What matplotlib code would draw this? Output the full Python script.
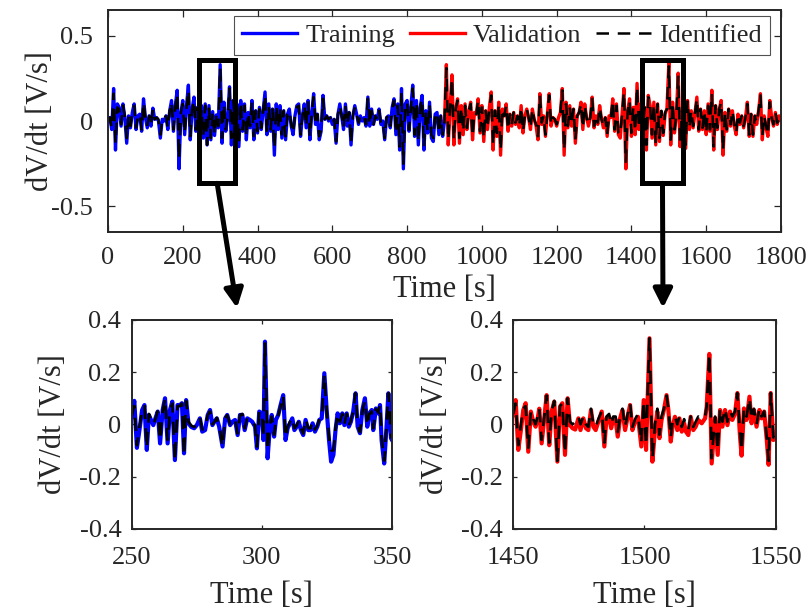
import numpy as np
import matplotlib
matplotlib.use("Agg")
import matplotlib.pyplot as plt
from matplotlib.patches import Rectangle

plt.rcParams['font.family'] = ['Liberation Serif', 'DejaVu Serif']

# ---- top panel data, read every 5 s ----
t_train = np.arange(0, 901, 5)
t_valid = np.arange(900, 1801, 5)

dv_train = [
    0.0, 0.02, -0.05, 0.19, -0.17, 0.10, 0.08, -0.03, 0.10, 0.02,
    -0.13, 0.03, -0.04, 0.05, 0.10, -0.05, 0.03, 0.04, -0.06, 0.13,
    0.02, -0.04, 0.03, -0.03, 0.075, 0.01, 0.02, 0.0, -0.10, 0.01,
    0.0, 0.03, -0.05, 0.06, 0.12, -0.06, 0.09, 0.18, -0.28, 0.05,
    0.12, -0.08, 0.09, 0.21, -0.11, 0.07, 0.14, -0.06, 0.08, -0.17,
    0.09, -0.10, 0.10, -0.14, 0.09, -0.11, 0.055, -0.085, 0.036, -0.04,
    0.33, -0.13, 0.11, -0.06, 0.02, 0.20, -0.14, 0.12, -0.03, 0.10,
    -0.15, 0.12, -0.06, 0.10, -0.11, 0.05, -0.04, 0.12, -0.11, 0.06,
    -0.07, 0.08, -0.05, 0.06, 0.17, -0.08, 0.10, -0.06, 0.07, -0.20,
    0.10, -0.05, 0.09, -0.10, 0.06, -0.11, 0.04, 0.07, -0.03, -0.08,
    0.03, 0.09, 0.10, -0.09, 0.03, 0.10, -0.04, 0.12, -0.11, 0.05,
    0.16, -0.02, 0.04, -0.11, -0.06, 0.15, 0.01, 0.03, 0.0, 0.02,
    -0.02, 0.01, -0.13, 0.04, 0.10, 0.03, -0.05, 0.10, -0.03, 0.05,
    -0.14, 0.03, 0.09, 0.04, -0.02, 0.03, 0.0, 0.02, -0.03, 0.14,
    -0.03, 0.07, -0.02, 0.03, 0.01, 0.07, -0.02, 0.0, -0.11, 0.02,
    0.03, -0.04, 0.08, 0.13, -0.08, 0.10, -0.17, 0.19, -0.28, 0.10,
    0.12, -0.06, 0.08, 0.21, -0.09, 0.12, -0.14, 0.08, 0.15, -0.17,
    0.06, -0.07, 0.11, -0.10, -0.12, 0.04, 0.05, -0.08, 0.03, -0.09,
    0.0]

id_train = [
    0.0, 0.02, -0.04, 0.16, -0.13, 0.08, 0.07, -0.02, 0.09, 0.03,
    -0.10, 0.03, -0.03, 0.05, 0.09, -0.04, 0.03, 0.04, -0.05, 0.11,
    0.02, -0.03, 0.03, -0.02, 0.07, 0.01, 0.02, 0.01, -0.08, 0.01,
    0.01, 0.03, -0.04, 0.06, 0.11, -0.05, 0.08, 0.16, -0.22, 0.05,
    0.10, -0.07, 0.08, 0.18, -0.09, 0.07, 0.12, -0.05, 0.08, -0.14,
    0.07, -0.09, 0.09, -0.14, 0.08, -0.10, 0.05, -0.08, 0.04, -0.03,
    0.31, -0.10, 0.10, -0.05, 0.03, 0.19, -0.10, 0.12, -0.02, 0.09,
    -0.13, 0.11, -0.05, 0.09, -0.09, 0.05, -0.03, 0.11, -0.09, 0.06,
    -0.06, 0.07, -0.04, 0.06, 0.15, -0.07, 0.09, -0.05, 0.07, -0.16,
    0.09, -0.04, 0.08, -0.08, 0.06, -0.09, 0.04, 0.06, -0.02, -0.07,
    0.03, 0.08, 0.09, -0.08, 0.03, 0.09, -0.03, 0.11, -0.09, 0.05,
    0.14, -0.02, 0.04, -0.09, -0.05, 0.13, 0.01, 0.03, 0.01, 0.02,
    -0.02, 0.01, -0.12, 0.04, 0.09, 0.03, -0.04, 0.09, -0.02, 0.05,
    -0.13, 0.03, 0.08, 0.04, -0.01, 0.03, 0.01, 0.02, -0.02, 0.13,
    -0.02, 0.06, -0.02, 0.03, 0.01, 0.06, -0.01, 0.0, -0.10, 0.02,
    0.03, -0.03, 0.07, 0.12, -0.07, 0.09, -0.15, 0.17, -0.25, 0.09,
    0.11, -0.05, 0.07, 0.19, -0.08, 0.11, -0.12, 0.08, 0.13, -0.15,
    0.06, -0.06, 0.10, -0.08, -0.10, 0.04, 0.05, -0.07, 0.03, -0.08,
    0.0]

dv_valid = [
    0.0, 0.33, -0.14, 0.08, 0.27, -0.14, 0.07, 0.13, -0.13, 0.09,
    -0.08, 0.10, -0.05, 0.06, 0.11, -0.11, 0.05, 0.04, 0.13, -0.07,
    0.09, -0.12, 0.06, -0.05, 0.08, 0.17, -0.17, 0.06, -0.09, 0.11,
    -0.20, 0.07, 0.03, 0.10, -0.06, 0.04, -0.03, 0.05, -0.02, 0.03,
    -0.04, 0.09, -0.07, 0.03, 0.07, 0.02, -0.05, 0.07, 0.01, -0.03,
    -0.11, 0.16, -0.02, 0.03, -0.09, 0.04, 0.16, -0.03, 0.02, 0.01,
    -0.03, 0.02, 0.05, 0.19, -0.20, 0.11, -0.04, 0.09, -0.03, 0.07,
    -0.13, 0.03, 0.05, 0.11, -0.05, 0.10, 0.02, -0.03, 0.02, 0.14,
    -0.04, 0.03, -0.02, 0.09, 0.01, -0.04, 0.02, -0.09, 0.03, 0.02,
    0.13, -0.06, 0.10, -0.08, -0.10, 0.04, 0.19, -0.28, 0.06, 0.13,
    -0.09, 0.08, -0.08, 0.22, -0.05, 0.10, -0.10, 0.08, -0.17, 0.15,
    0.09, -0.10, 0.11, -0.14, 0.10, -0.12, 0.055, -0.085, 0.04, 0.074,
    0.34, -0.14, 0.11, -0.07, 0.02, 0.28, -0.15, 0.05, 0.12, -0.16,
    0.12, -0.05, 0.06, -0.04, 0.05, 0.14, -0.06, 0.07, -0.05, 0.06,
    -0.08, 0.10, -0.06, 0.18, -0.17, 0.09, -0.05, 0.07, 0.12, -0.20,
    0.05, -0.06, 0.07, -0.03, 0.06, -0.03, -0.08, 0.04, -0.02, 0.03,
    -0.04, 0.02, 0.11, -0.09, 0.04, -0.09, 0.03, -0.02, 0.06, 0.16,
    -0.11, 0.03, -0.04, -0.09, 0.12, 0.02, -0.03, 0.05, -0.02, 0.03,
    0.01]

id_valid = [
    0.0, 0.31, -0.11, 0.07, 0.25, -0.11, 0.07, 0.12, -0.10, 0.08,
    -0.06, 0.09, -0.04, 0.06, 0.10, -0.09, 0.05, 0.04, 0.12, -0.06,
    0.08, -0.10, 0.06, -0.04, 0.08, 0.15, -0.14, 0.06, -0.07, 0.10,
    -0.17, 0.07, 0.03, 0.09, -0.05, 0.04, -0.02, 0.05, -0.01, 0.03,
    -0.03, 0.08, -0.06, 0.03, 0.07, 0.02, -0.04, 0.07, 0.01, -0.02,
    -0.09, 0.15, -0.01, 0.03, -0.08, 0.04, 0.15, -0.02, 0.02, 0.01,
    -0.02, 0.02, 0.05, 0.18, -0.17, 0.10, -0.03, 0.08, -0.02, 0.07,
    -0.11, 0.03, 0.05, 0.10, -0.04, 0.09, 0.02, -0.02, 0.02, 0.13,
    -0.03, 0.03, -0.01, 0.08, 0.01, -0.03, 0.02, -0.08, 0.03, 0.02,
    0.12, -0.05, 0.09, -0.07, -0.08, 0.04, 0.17, -0.24, 0.06, 0.12,
    -0.07, 0.08, -0.06, 0.20, -0.04, 0.09, -0.08, 0.08, -0.14, 0.14,
    0.08, -0.08, 0.10, -0.13, 0.10, -0.10, 0.06, -0.07, 0.05, 0.07,
    0.32, -0.11, 0.11, -0.05, 0.03, 0.26, -0.12, 0.05, 0.11, -0.14,
    0.12, -0.04, 0.06, -0.03, 0.05, 0.13, -0.05, 0.07, -0.04, 0.06,
    -0.07, 0.09, -0.05, 0.16, -0.15, 0.09, -0.04, 0.07, 0.11, -0.17,
    0.05, -0.05, 0.07, -0.02, 0.06, -0.02, -0.07, 0.04, -0.01, 0.03,
    -0.03, 0.02, 0.10, -0.08, 0.04, -0.08, 0.03, -0.01, 0.06, 0.15,
    -0.09, 0.03, -0.03, -0.08, 0.11, 0.02, -0.02, 0.05, -0.01, 0.03,
    0.01]

# ---- zoomed window 250-350 s (training) ----
tz_train = [
    250, 251, 252, 253, 254, 254.9, 255.8, 256.6, 257.4, 258.3,
    259.1, 260, 260.9, 261.9, 262.8, 263.8, 264.7, 265.6, 266.6, 267.6,
    268.5, 269.3, 270.1, 270.9, 271.8, 272.9, 274, 275, 276.2, 277.1,
    278.2, 279.2, 280.1, 281, 281.8, 282.7, 283.6, 284.9, 285.9, 286.7,
    287.8, 288.7, 289.7, 290.7, 291.6, 292.5, 293.4, 294.4, 295.4, 296.3,
    297.4, 298.1, 299, 300, 300.6, 301.2, 302.2, 303.1, 303.8, 304.7,
    305.4, 306.3, 307.2, 308.2, 309.1, 309.9, 310.8, 311.7, 312.5, 313.4,
    314.2, 315, 315.9, 316.8, 317.8, 318.7, 319.5, 320.4, 321.3, 322.1,
    323, 324, 324.9, 325.8, 326.6, 327.5, 328.3, 329.1, 330, 330.9,
    331.7, 332.6, 333.4, 334.2, 335.1, 336, 336.8, 337.7, 338.6, 339.6,
    340.5, 341.3, 342.2, 342.8, 343.8, 344.7, 345.4, 346, 347, 347.9,
    348.6, 349.6, 350]
dz_train = [
    0.03, 0.09, -0.09, -0.02, 0.055, 0.074, -0.098, 0.036, 0.017, -0.003,
    0.023, 0.049, -0.073, 0.055, 0.10, -0.073, 0.055, 0.087, -0.137, 0.074,
    0.074, 0.081, -0.111, 0.093, 0.004, -0.01, -0.015, -0.003, 0.023, -0.028,
    -0.022, 0.036, 0.055, -0.003, 0.01, 0.023, -0.009, -0.085, 0.023, 0.036,
    -0.003, 0.01, 0.017, -0.041, 0.036, 0.036, -0.022, 0.023, 0.017, 0.01,
    -0.009, -0.092, 0.049, 0.042, -0.06, 0.317, -0.13, -0.009, 0.036, -0.047,
    0.017, 0.036, 0.074, 0.112, -0.06, -0.015, 0.004, 0.023, -0.022, -0.009,
    0.01, -0.022, -0.041, 0.017, -0.022, -0.022, 0.004, -0.028, -0.009, 0.017,
    0.023, 0.196, 0.055, -0.06, -0.143, -0.117, -0.022, 0.042, 0.004, 0.042,
    -0.003, 0.042, -0.009, 0.01, 0.049, 0.119, -0.009, -0.034, 0.055, 0.1,
    -0.009, 0.042, 0.055, -0.022, 0.061, 0.042, 0.074, -0.06, -0.15, -0.009,
    0.119, -0.053, -0.06]
iz_train = [
    0.03, 0.07, -0.08, -0.01, 0.05, 0.07, -0.09, 0.04, 0.02, 0.0,
    0.02, 0.05, -0.06, 0.05, 0.10, -0.06, 0.05, 0.08, -0.14, 0.07,
    0.07, 0.08, -0.12, 0.09, 0.01, -0.005, -0.01, 0.0, 0.025, -0.02,
    -0.015, 0.035, 0.05, 0.0, 0.01, 0.025, -0.005, -0.085, 0.025, 0.035,
    0.0, 0.01, 0.02, -0.035, 0.035, 0.04, -0.015, 0.025, 0.02, 0.01,
    -0.005, -0.085, 0.05, 0.04, -0.05, 0.31, -0.10, 0.0, 0.03, -0.04,
    0.02, 0.035, 0.07, 0.11, -0.05, -0.01, 0.01, 0.025, -0.015, -0.005,
    0.015, -0.015, -0.035, 0.02, -0.015, -0.015, 0.01, -0.02, -0.005, 0.02,
    0.025, 0.19, 0.05, -0.05, -0.10, -0.10, -0.015, 0.04, 0.01, 0.04,
    0.0, 0.04, -0.005, 0.015, 0.05, 0.12, -0.005, -0.03, 0.05, 0.09,
    -0.005, 0.04, 0.05, -0.015, 0.06, 0.045, 0.075, -0.05, -0.14, -0.005,
    0.12, -0.045, -0.055]

# ---- zoomed window 1450-1550 s (validation) ----
tz_valid = [
    1450, 1450.9, 1451.9, 1452.9, 1453.8, 1454.7, 1455.7, 1456.7, 1457.6, 1458.5,
    1459.2, 1459.9, 1460.8, 1461.8, 1462.7, 1463.7, 1464.6, 1465.6, 1466.8, 1467.8,
    1468.7, 1469.7, 1470.7, 1471.6, 1472.6, 1473.6, 1474.8, 1475.6, 1476.7, 1477.7,
    1478.6, 1479.6, 1480.5, 1481.4, 1482.4, 1483.7, 1484.7, 1485.5, 1486.5, 1487.3,
    1488.1, 1489, 1489.8, 1490.7, 1491.6, 1492.6, 1493.6, 1494.5, 1495.4, 1496.4,
    1497.5, 1498.8, 1499.7, 1500.6, 1501.9, 1503.0, 1504, 1504.9, 1505.7, 1506.5,
    1507.4, 1508.4, 1509.1, 1510, 1510.7, 1511.6, 1512.5, 1513.3, 1514.2, 1515.1,
    1515.8, 1516.7, 1517.6, 1518.6, 1519.5, 1520.5, 1521.8, 1523.1, 1523.7, 1524.7,
    1525.6, 1526.9, 1527.9, 1528.8, 1529.7, 1530.7, 1531.6, 1532.6, 1533.5, 1534.5,
    1535.4, 1536.4, 1537, 1537.9, 1538.9, 1540, 1540.8, 1541.7, 1542.7, 1543.8,
    1544.6, 1545.6, 1546.6, 1547.3, 1548.1, 1549.1, 1550]
dz_valid = [
    0.036, 0.093, -0.098, -0.022, 0.055, 0.081, -0.105, 0.049, 0.01, -0.009,
    0.017, 0.06, -0.073, 0.023, 0.112, -0.08, 0.049, 0.087, -0.143, 0.068,
    0.081, -0.117, 0.1, -0.003, -0.015, -0.02, 0.023, -0.022, 0.023, -0.015,
    -0.022, 0.055, -0.009, -0.022, 0.01, 0.049, -0.085, 0.023, 0.029, -0.015,
    0.023, 0.017, -0.047, 0.023, 0.055, -0.022, 0.029, 0.074, -0.022, 0.01,
    0.029, -0.085, 0.093, -0.098, 0.33, -0.143, -0.022, 0.049, -0.053, 0.017,
    0.055, 0.112, 0.055, -0.066, -0.009, 0.029, -0.022, 0.023, -0.028, 0.004,
    -0.028, -0.041, 0.029, -0.022, -0.009, 0.017, 0.004, 0.023, 0.068, 0.27,
    -0.15, 0.023, -0.117, 0.055, -0.009, 0.055, -0.003, 0.049, 0.017, 0.042,
    0.12, -0.047, -0.12, 0.061, 0.017, 0.106, 0.004, 0.055, -0.009, 0.055,
    0.023, 0.049, -0.06, -0.155, 0.12, -0.06, -0.053]
iz_valid = [
    0.04, 0.08, -0.08, 0.0, 0.06, 0.07, -0.09, 0.05, 0.02, 0.0,
    0.03, 0.06, -0.06, 0.03, 0.11, -0.07, 0.05, 0.09, -0.14, 0.07,
    0.08, -0.11, 0.10, 0.01, 0.0, 0.01, 0.03, 0.0, 0.03, 0.0,
    -0.01, 0.06, 0.0, -0.01, 0.02, 0.05, -0.07, 0.03, 0.04, 0.0,
    0.03, 0.03, -0.03, 0.03, 0.06, -0.01, 0.04, 0.08, -0.01, 0.02,
    0.04, -0.07, 0.09, -0.08, 0.33, -0.13, 0.0, 0.06, -0.04, 0.03,
    0.06, 0.11, 0.06, -0.05, 0.01, 0.03, 0.0, 0.03, -0.01, 0.02,
    -0.01, -0.02, 0.03, -0.01, 0.01, 0.03, 0.02, 0.03, 0.07, 0.27,
    -0.13, 0.03, -0.10, 0.06, 0.01, 0.06, 0.01, 0.05, 0.03, 0.05,
    0.12, -0.03, -0.10, 0.06, 0.03, 0.10, 0.02, 0.06, 0.0, 0.06,
    0.03, 0.05, -0.05, -0.14, 0.12, -0.05, -0.05]

dark = '#262626'
blue = (0, 0, 1)
red = (1, 0, 0)
dash = (0, (5, 3.5))

W, H = 812, 613
fig = plt.figure(figsize=(W / 100, H / 100), dpi=100)


def px_axes(l, t, r, b):
    return fig.add_axes([l / W, 1 - b / H, (r - l) / W, (b - t) / H])


def style(ax, ticklen, xpad, ypad):
    ax.tick_params(direction='in', top=True, right=True, length=ticklen,
                   width=0.9, colors=dark, labelsize=19)
    ax.tick_params(axis='x', pad=xpad)
    ax.tick_params(axis='y', pad=ypad)
    for s in ax.spines.values():
        s.set_linewidth(1.4)
        s.set_color(dark)


# top panel
ax = px_axes(108, 10, 781, 232)
ax.plot(t_train, dv_train, color=blue, lw=2.4, label='Training')
ax.plot(t_valid, dv_valid, color=red, lw=2.4, label='Validation')
ax.plot(t_train, id_train, color='k', lw=1.8, ls=dash, label='Identified')
ax.plot(t_valid, id_valid, color='k', lw=1.8, ls=dash)
ax.set_xlim(0, 1800)
ax.set_ylim(-0.65, 0.65)
ax.set_xticks(np.arange(0, 1801, 200))
ax.set_yticks([-0.5, 0, 0.5])
ax.set_yticklabels(['-0.5', '0', '0.5'])
style(ax, 5, 11, 11)
ax.set_xlabel('Time [s]', fontsize=22, color=dark, va='center')
ax.xaxis.set_label_coords(0.5, -0.26)
ax.set_ylabel('dV/dt [V/s]', fontsize=22, color=dark, va='center')
ax.yaxis.set_label_coords(-0.101, 0.5)

h = ax.get_legend_handles_labels()
leg = ax.legend(h[0], h[1], ncol=3, loc='upper right',
                bbox_to_anchor=(770 / W, 1 - 16 / H), bbox_transform=fig.transFigure,
                fontsize=19, frameon=True, fancybox=False, borderaxespad=0,
                handlelength=2.1, handletextpad=0.3, columnspacing=0.55,
                borderpad=0.3, labelcolor=dark)
leg.get_frame().set_edgecolor(dark)
leg.get_frame().set_linewidth(0.8)

# zoom boxes
for x0, x1 in [(244, 339), (1429, 1538)]:
    ax.add_patch(Rectangle((x0, -0.365), x1 - x0, 0.725, fill=False,
                           lw=3.6, ec='k', zorder=5))

# arrows
for xs, tip in [(292, (237, 308)), (1483, (663, 308))]:
    ax.annotate('', xy=(tip[0] / W, 1 - tip[1] / H), xycoords='figure fraction',
                xytext=(xs, -0.365), textcoords='data',
                arrowprops=dict(arrowstyle='-|>', lw=3.6, color='k',
                                mutation_scale=28, shrinkA=0, shrinkB=0),
                annotation_clip=False)

# bottom panels
for (l, r), tz, dz, iz, col, xl, lab_x in [
        ((131.7, 392), tz_train, dz_train, iz_train, blue, (250, 350), -0.302),
        ((513.3, 775.7), tz_valid, dz_valid, iz_valid, red, (1450, 1550), -0.298)]:
    b = px_axes(l, 320, r, 528.7)
    b.plot(tz, dz, color=col, lw=3.0)
    b.plot(tz, iz, color='k', lw=1.9, ls=dash)
    b.set_xlim(*xl)
    b.set_ylim(-0.4, 0.4)
    b.set_xticks([xl[0], (xl[0] + xl[1]) / 2, xl[1]])
    b.set_yticks([-0.4, -0.2, 0, 0.2, 0.4])
    b.set_yticklabels(['-0.4', '-0.2', '0', '0.2', '0.4'])
    style(b, 3, 13, 7.5)
    b.set_xlabel('Time [s]', fontsize=22, color=dark, va='center')
    b.xaxis.set_label_coords(0.5, -0.318)
    b.set_ylabel('dV/dt [V/s]', fontsize=22, color=dark, va='center')
    b.yaxis.set_label_coords(lab_x, 0.5)

fig.savefig('out.png', dpi=100)
